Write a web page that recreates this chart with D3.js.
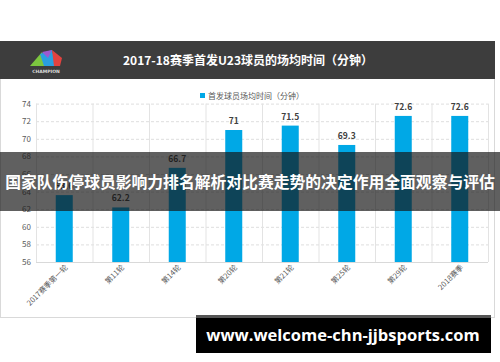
<!DOCTYPE html>
<html lang="zh">
<head>
<meta charset="UTF-8">
<title>U23 minutes</title>
<script src="https://cdn.jsdelivr.net/npm/d3@7"></script>
<style>
    body{ margin:0; background:#fff; font-family:"Noto Sans CJK SC","Noto Sans",sans-serif; }
    svg{ display:block; }
</style>
</head>
<body>
<svg id="chart" width="500" height="362"></svg>
<script>
// data
const rounds = ["2017赛季第一轮", "第11轮", "第14轮", "第20轮", "第21轮", "第25轮", "第29轮", "2018赛季"];
const minutes = [63.6, 62.2, 66.7, 71, 71.5, 69.3, 72.6, 72.6];
const yTicks = [56, 58, 60, 62, 64, 66, 68, 70, 72, 74];

const svg = d3.select("#chart");
const font = '"Noto Sans CJK SC","Noto Sans",sans-serif';

// card + header
svg.append("rect").attr("x", 0.5).attr("y", 41.5).attr("width", 494).attr("height", 276)
    .attr("fill", "#fff").attr("stroke", "#d9d9d9");
svg.append("rect").attr("x", 0).attr("y", 41).attr("width", 495).attr("height", 38).attr("fill", "#3d3d3d");

// logo
let logo = svg.append("g").attr("transform", "translate(30,48)");
logo.append("polygon").attr("points", "0,18 12,4 16,18").attr("fill", "#7cc63f");
logo.append("polygon").attr("points", "10,6 22,2 26,18 14,18").attr("fill", "#2a9fe0");
logo.append("polygon").attr("points", "22,2 32,10 30,18 24,18").attr("fill", "#e3423f");
logo.append("polygon").attr("points", "12,4 22,2 18,10").attr("fill", "#9b59d0");
logo.append("text").attr("x", 16).attr("y", 25).attr("text-anchor", "middle")
    .attr("font-size", 4.5).attr("font-weight", "bold").attr("fill", "#ddd")
    .attr("font-family", "DejaVu Sans").text("CHAMPION");

svg.append("text").attr("x", 248).attr("y", 64.5).attr("text-anchor", "middle")
    .attr("font-family", font).attr("font-weight", "bold").attr("font-size", 12)
    .attr("fill", "#fff").text("2017-18赛季首发U23球员的场均时间（分钟）");

// legend
svg.append("rect").attr("x", 200).attr("y", 93).attr("width", 5).attr("height", 5).attr("fill", "#00a8e6");
svg.append("text").attr("x", 208).attr("y", 98.5).attr("font-family", font).attr("font-size", 8)
    .attr("fill", "#595959").text("首发球员场均时间（分钟）");

// scales
const x = d3.scaleBand().domain(rounds).range([36, 488]).paddingInner(0).paddingOuter(0);
const y = d3.scaleLinear().domain([56, 74]).range([262, 103.6]);

const g = svg.append("g");

// horizontal dashed grid
g.selectAll(".hg").data(yTicks.slice(1)).enter().append("line")
    .attr("x1", 36).attr("x2", 488)
    .attr("y1", d => y(d) + 0.5).attr("y2", d => y(d) + 0.5)
    .attr("stroke", "#dedede").attr("stroke-dasharray", "3,2");

// vertical category separators
const seps = rounds.map(r => x(r)).concat([x.range()[1]]);
g.selectAll(".vg").data(seps).enter().append("line")
    .attr("x1", d => d + 0.5).attr("x2", d => d + 0.5)
    .attr("y1", y(74)).attr("y2", y(56))
    .attr("stroke", "#e3e3e3");

// base line
g.append("line").attr("x1", 36).attr("x2", 488).attr("y1", y(56) + 0.5).attr("y2", y(56) + 0.5)
    .attr("stroke", "#d9d9d9");

// y tick labels
g.selectAll(".yt").data(yTicks).enter().append("text")
    .attr("x", 31).attr("y", d => y(d) + 3)
    .attr("text-anchor", "end").attr("font-family", font).attr("font-size", 8)
    .attr("fill", "#595959").text(d => d);

// bars
const bw = 17;
g.selectAll(".bar").data(minutes).enter().append("rect")
    .attr("x", (d, i) => x(rounds[i]) + x.bandwidth() / 2 - bw / 2)
    .attr("y", d => y(d))
    .attr("width", bw)
    .attr("height", d => y(56) - y(d))
    .attr("fill", "#00a8e6");

// value labels
g.selectAll(".val").data(minutes).enter().append("text")
    .attr("x", (d, i) => x(rounds[i]) + x.bandwidth() / 2)
    .attr("y", d => y(d) - 6)
    .attr("text-anchor", "middle").attr("font-family", font).attr("font-weight", "bold")
    .attr("font-size", 8.5).attr("fill", "#404040").text(d => d);

// x labels rotated
g.selectAll(".xl").data(rounds).enter().append("text")
    .attr("transform", d => "translate(" + (x(d) + x.bandwidth() / 2 + 4) + "," + 268 + ") rotate(-45)")
    .attr("text-anchor", "end").attr("font-family", font).attr("font-size", 7.5)
    .attr("fill", "#595959").text(d => d);

// overlay band with headline
svg.append("rect").attr("x", 0).attr("y", 152).attr("width", 500).attr("height", 59)
    .attr("fill", "rgba(20,20,20,0.68)");
svg.append("text").attr("x", 250).attr("y", 188).attr("text-anchor", "middle")
    .attr("font-family", font).attr("font-weight", "bold").attr("font-size", 15.8)
    .attr("fill", "#fff").text("国家队伤停球员影响力排名解析对比赛走势的决定作用全面观察与评估");

// watermark box
svg.append("rect").attr("x", 196).attr("y", 316).attr("width", 295).attr("height", 37).attr("fill", "#000");
svg.append("rect").attr("x", 196).attr("y", 315).attr("width", 295).attr("height", 3).attr("fill", "#555");
svg.append("text").attr("x", 343).attr("y", 341).attr("text-anchor", "middle")
    .attr("font-family", "Open Sans, DejaVu Sans, sans-serif").attr("font-weight", "bold").attr("font-size", 16.5)
    .attr("fill", "#fff").text("www.welcome-chn-jjbsports.com");
</script>
</body>
</html>
